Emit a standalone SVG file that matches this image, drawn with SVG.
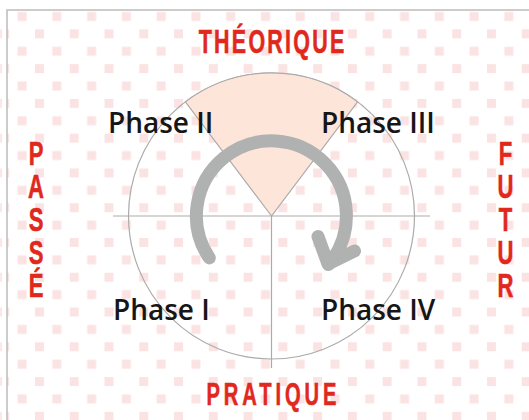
<svg xmlns="http://www.w3.org/2000/svg" width="529" height="420" viewBox="0 0 529 420">
<defs>
<pattern id="dots" patternUnits="userSpaceOnUse" x="0.2" y="-5.4" width="34.77" height="34.77">
<rect x="0" y="0" width="9" height="9" fill="#fbe3e3"/>
<rect x="17.385" y="17.385" width="9" height="9" fill="#fbe3e3"/>
</pattern>
<style>
.ax{font-family:"Liberation Sans",Arial,sans-serif;font-weight:bold;fill:#e0281d;stroke:#e0281d;stroke-width:0.6;text-anchor:middle}
.vt{font-family:"Liberation Sans",Arial,sans-serif;font-weight:bold;fill:#e0281d;stroke:#e0281d;stroke-width:0.6;writing-mode:vertical-rl;text-orientation:upright;text-anchor:start}
.ph{font-family:"Open Sans","Noto Sans",sans-serif;font-size:28px;font-weight:600;fill:#161616}
.ln{stroke:#ababab;stroke-width:1.2;fill:none}
.arw{stroke:#b0b1b1;stroke-width:13;fill:none;stroke-linecap:round;stroke-linejoin:round}
</style>
</defs>
<rect x="0" y="0" width="529" height="420" fill="#fff"/>
<rect x="0" y="10" width="529" height="410" fill="url(#dots)"/>
<rect x="2" y="10" width="5" height="410" fill="#fff"/>
<g id="frame">
<path d="M7,420 V10 H529" stroke="#bcbcbc" stroke-width="1.5" fill="none"/>
</g>
<g id="circle">
<circle cx="271.5" cy="216" r="143" fill="#fff" class="ln"/>
</g>
<g id="sector-theorique">
<path d="M271.5,216 L185.4,101.8 A143 143 0 0 1 357.6,101.8 Z" fill="#fde5da" stroke="#ababab" stroke-width="1.2"/>
</g>
<g id="connectors">
<line x1="113" y1="216" x2="430" y2="216" class="ln"/>
<line x1="271.5" y1="216" x2="271.5" y2="368" class="ln"/>
</g>
<g id="cycle-arrow">
<path d="M209.3,257.9 A75 75 0 1 1 328.5,264.5" class="arw"/>
<polyline points="318,236.5 328,264 354.5,251" class="arw"/>
</g>
<g id="phase-ii"><text class="ph" x="108" y="133">Phase II</text></g>
<g id="phase-iii"><text class="ph" x="321" y="133">Phase III</text></g>
<g id="phase-i"><text class="ph" x="113" y="319.5">Phase I</text></g>
<g id="phase-iv"><text class="ph" x="321" y="319.5">Phase IV</text></g>
<g id="label-theorique">
<text class="ax" font-size="33" transform="translate(271.5,53) scale(0.65,1)" x="0" y="0" textLength="224" lengthAdjust="spacing">THÉORIQUE</text>
</g>
<g id="label-pratique">
<text class="ax" font-size="31" transform="translate(271.5,405) scale(0.65,1)" x="0" y="0" textLength="200" lengthAdjust="spacing">PRATIQUE</text>
</g>
<g id="label-passe" transform="translate(36,0) scale(0.65,1)">
<text class="vt" font-size="34" x="0" y="134" textLength="170" lengthAdjust="spacing">PASSÉ</text>
</g>
<g id="label-futur" transform="translate(505.5,0) scale(0.65,1)">
<text class="vt" font-size="34" x="0" y="134" textLength="170" lengthAdjust="spacing">FUTUR</text>
</g>
</svg>
